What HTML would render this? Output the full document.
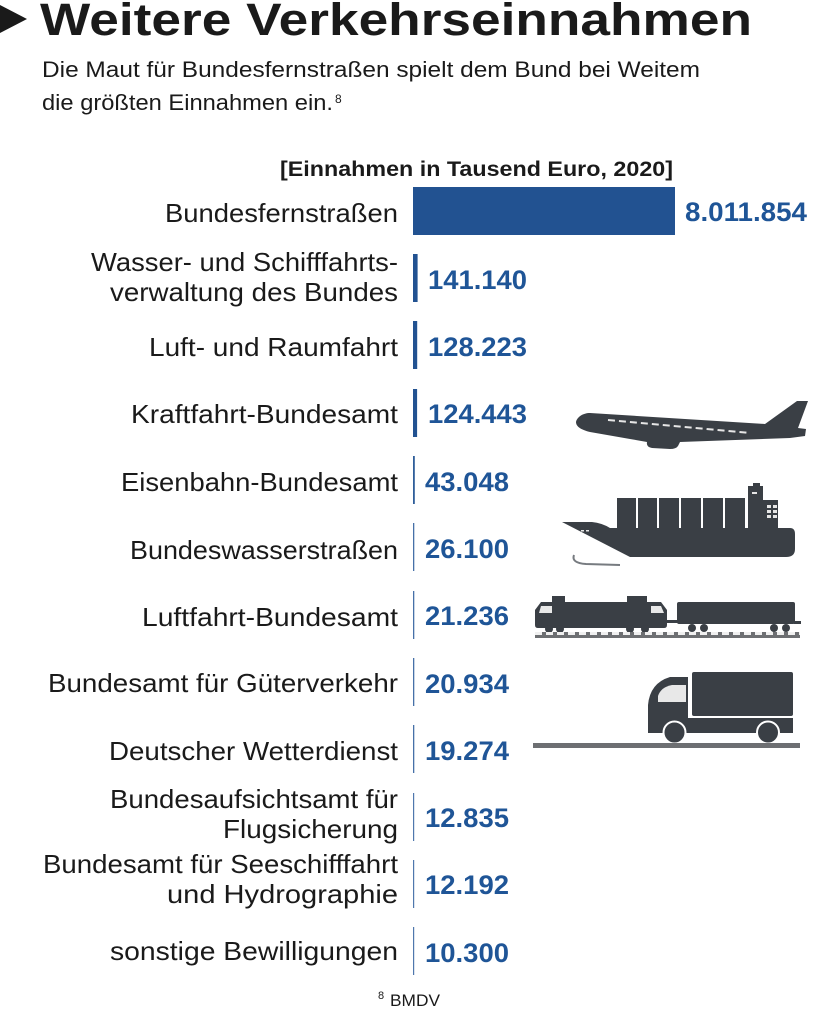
<!DOCTYPE html>
<html><head><meta charset="utf-8"><style>
html,body{margin:0;padding:0;background:#fff;}
svg{display:block;}
text{font-family:"Liberation Sans",Arial,sans-serif;}
.lb{font-size:26px;fill:#1a1a1a;}
.vl{font-size:27px;font-weight:bold;fill:#1f5597;}
</style></head><body>
<svg width="820" height="1024" viewBox="0 0 820 1024" xmlns="http://www.w3.org/2000/svg">
<rect width="820" height="1024" fill="#fff"/>
<!-- header -->
<polygon points="0,5 27,19 0,33" fill="#1a1a1a"/>
<text x="40" y="35" font-size="45" font-weight="bold" fill="#1a1a1a" textLength="712" lengthAdjust="spacingAndGlyphs">Weitere Verkehrseinnahmen</text>
<text x="42" y="77" font-size="22" fill="#1a1a1a" textLength="658" lengthAdjust="spacingAndGlyphs">Die Maut für Bundesfernstraßen spielt dem Bund bei Weitem</text>
<text x="42" y="110" font-size="22" fill="#1a1a1a" textLength="291" lengthAdjust="spacingAndGlyphs">die größten Einnahmen ein.</text>
<text x="335" y="103" font-size="12" fill="#1a1a1a">8</text>
<text x="280" y="176" font-size="21" font-weight="bold" fill="#1a1a1a" textLength="393" lengthAdjust="spacingAndGlyphs">[Einnahmen in Tausend Euro, 2020]</text>

<!-- labels -->
<text class="lb" x="165" y="222" textLength="233" lengthAdjust="spacingAndGlyphs">Bundesfernstraßen</text>
<text class="lb" x="91" y="271" textLength="307" lengthAdjust="spacingAndGlyphs">Wasser- und Schifffahrts-</text>
<text class="lb" x="110" y="301" textLength="288" lengthAdjust="spacingAndGlyphs">verwaltung des Bundes</text>
<text class="lb" x="149" y="356" textLength="249" lengthAdjust="spacingAndGlyphs">Luft- und Raumfahrt</text>
<text class="lb" x="131" y="423" textLength="267" lengthAdjust="spacingAndGlyphs">Kraftfahrt-Bundesamt</text>
<text class="lb" x="121" y="491" textLength="277" lengthAdjust="spacingAndGlyphs">Eisenbahn-Bundesamt</text>
<text class="lb" x="130" y="559" textLength="268" lengthAdjust="spacingAndGlyphs">Bundeswasserstraßen</text>
<text class="lb" x="142" y="626" textLength="256" lengthAdjust="spacingAndGlyphs">Luftfahrt-Bundesamt</text>
<text class="lb" x="48" y="692" textLength="350" lengthAdjust="spacingAndGlyphs">Bundesamt für Güterverkehr</text>
<text class="lb" x="109" y="760" textLength="289" lengthAdjust="spacingAndGlyphs">Deutscher Wetterdienst</text>
<text class="lb" x="110" y="808" textLength="288" lengthAdjust="spacingAndGlyphs">Bundesaufsichtsamt für</text>
<text class="lb" x="223" y="838" textLength="175" lengthAdjust="spacingAndGlyphs">Flugsicherung</text>
<text class="lb" x="43" y="873" textLength="355" lengthAdjust="spacingAndGlyphs">Bundesamt für Seeschifffahrt</text>
<text class="lb" x="167" y="903" textLength="231" lengthAdjust="spacingAndGlyphs">und Hydrographie</text>
<text class="lb" x="110" y="960" textLength="288" lengthAdjust="spacingAndGlyphs">sonstige Bewilligungen</text>

<!-- bars -->
<rect x="413" y="187" width="262" height="48" fill="#225291"/>
<rect x="413" y="254" width="4.6" height="48" fill="#225291"/>
<rect x="413" y="321" width="4.2" height="48" fill="#225291"/>
<rect x="413" y="389" width="4.1" height="48" fill="#225291"/>
<rect x="413" y="456" width="1.8" height="48" fill="#2f5e9a"/>
<rect x="413" y="523" width="1.3" height="48" fill="#4670a8"/>
<rect x="413" y="591" width="1.3" height="48" fill="#4670a8"/>
<rect x="413" y="658" width="1.3" height="48" fill="#4670a8"/>
<rect x="413" y="725" width="1.3" height="48" fill="#4670a8"/>
<rect x="413" y="793" width="1.2" height="48" fill="#4f77ad"/>
<rect x="413" y="860" width="1.2" height="48" fill="#4f77ad"/>
<rect x="413" y="927" width="1.2" height="48" fill="#4f77ad"/>

<!-- values -->
<text class="vl" x="685" y="221" textLength="122" lengthAdjust="spacingAndGlyphs">8.011.854</text>
<text class="vl" x="428" y="289" textLength="99" lengthAdjust="spacingAndGlyphs">141.140</text>
<text class="vl" x="428" y="356" textLength="99" lengthAdjust="spacingAndGlyphs">128.223</text>
<text class="vl" x="428" y="423" textLength="99" lengthAdjust="spacingAndGlyphs">124.443</text>
<text class="vl" x="425" y="491" textLength="84" lengthAdjust="spacingAndGlyphs">43.048</text>
<text class="vl" x="425" y="558" textLength="84" lengthAdjust="spacingAndGlyphs">26.100</text>
<text class="vl" x="425" y="625" textLength="84" lengthAdjust="spacingAndGlyphs">21.236</text>
<text class="vl" x="425" y="693" textLength="84" lengthAdjust="spacingAndGlyphs">20.934</text>
<text class="vl" x="425" y="760" textLength="84" lengthAdjust="spacingAndGlyphs">19.274</text>
<text class="vl" x="425" y="827" textLength="84" lengthAdjust="spacingAndGlyphs">12.835</text>
<text class="vl" x="425" y="894" textLength="84" lengthAdjust="spacingAndGlyphs">12.192</text>
<text class="vl" x="425" y="962" textLength="84" lengthAdjust="spacingAndGlyphs">10.300</text>

<!-- footnote -->
<text x="378" y="999" font-size="11" fill="#1a1a1a">8</text>
<text x="390" y="1006" font-size="17" fill="#1a1a1a" textLength="50" lengthAdjust="spacingAndGlyphs">BMDV</text>

<!-- plane -->
<g fill="#3a3f45">
<path d="M576,422 C577,417 583,413 590,413 L765,424 L797,401 L808,401 L798,428 L806,429 L805,436 L790,438 L680,442 L678,446 Q676,449 670,449 L652,448 Q646,447 647,442 L630,439 L590,432 C582,430 576,427 576,422 Z"/>
</g>
<line x1="608" y1="420" x2="750" y2="433" stroke="#e6e6e6" stroke-width="2" stroke-dasharray="7 4"/>

<!-- ship -->
<g fill="#3a3f45">
<path d="M562,522 L592,522 Q602,523 610,528 L790,528 Q795,528 795,534 L795,549 Q795,557 786,557 L630,557 Z"/>
<rect x="617" y="498" width="19" height="31"/>
<rect x="638" y="498" width="19" height="31"/>
<rect x="659" y="498" width="20" height="31"/>
<rect x="681" y="498" width="20" height="31"/>
<rect x="703" y="498" width="20" height="31"/>
<rect x="725" y="498" width="20" height="31"/>
<rect x="748" y="486" width="15" height="43"/>
<rect x="753" y="483" width="7" height="4"/>
<rect x="748" y="500" width="30" height="29"/>
</g>
<g fill="#e6e6e6">
<rect x="752" y="492" width="5" height="2"/>
<rect x="767" y="505" width="4" height="3"/><rect x="773" y="505" width="4" height="3"/>
<rect x="767" y="510" width="4" height="3"/><rect x="773" y="510" width="4" height="3"/>
<rect x="767" y="515" width="4" height="3"/><rect x="773" y="515" width="4" height="3"/>
<rect x="581" y="530" width="3" height="1.5"/><rect x="586" y="530" width="3" height="1.5"/>
</g>
<path d="M574,555 Q571,563 586,564 L620,565" fill="none" stroke="#777b80" stroke-width="2"/>

<!-- train -->
<g fill="#3a3f45">
<path d="M541,602 L661,602 L667,610 L667,625 Q667,628 664,628 L538,628 Q535,628 535,625 L535,610 Z"/>
<rect x="552" y="596" width="13" height="6"/>
<rect x="627" y="596" width="20" height="6"/>
<circle cx="549" cy="629" r="4"/><circle cx="560" cy="629" r="4"/>
<circle cx="630" cy="629" r="4"/><circle cx="645" cy="629" r="4"/>
<rect x="666" y="620" width="12" height="3"/>
<rect x="677" y="602" width="118" height="22" rx="2"/>
<rect x="794" y="621" width="7" height="3"/>
<circle cx="692" cy="628" r="4"/><circle cx="704" cy="628" r="4"/>
<circle cx="774" cy="628" r="4"/><circle cx="786" cy="628" r="4"/>
</g>
<g fill="#e8e8e8">
<path d="M541,606 L552,606 L552,613 L539,613 Z"/>
<path d="M651,606 L661,606 L664,613 L651,613 Z"/>
</g>
<rect x="535" y="632" width="265" height="6" fill="#6d6f72"/>
<line x1="535" y1="633.5" x2="800" y2="633.5" stroke="#f0f0f0" stroke-width="3" stroke-dasharray="7 4"/>

<!-- truck -->
<g fill="#3a3f45">
<rect x="692" y="672" width="101" height="44" rx="2"/>
<path d="M648,733 L648,705 Q650,683 670,677 L688,677 L688,733 Z"/>
<rect x="648" y="718" width="145" height="15"/>
</g>
<path d="M658,702 L658,696 Q661,687 672,685 L686,685 L686,702 Z" fill="#e8e8e8"/>
<circle cx="674.5" cy="732.5" r="11" fill="#3a3f45" stroke="#fff" stroke-width="2"/>
<circle cx="768" cy="732.5" r="11" fill="#3a3f45" stroke="#fff" stroke-width="2"/>
<rect x="533" y="743" width="267" height="5" fill="#6d6f72"/>
</svg>
</body></html>
